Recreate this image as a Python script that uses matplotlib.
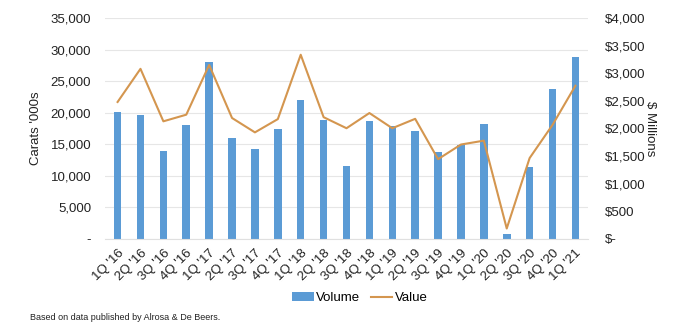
import matplotlib
matplotlib.use('Agg')
import matplotlib.pyplot as plt
from matplotlib.ticker import FuncFormatter

# data
quarters = ["1Q '16", "2Q '16", "3Q '16", "4Q '16", "1Q '17", "2Q '17", "3Q '17",
            "4Q '17", "1Q '18", "2Q '18", "3Q '18", "4Q '18", "1Q '19", "2Q '19",
            "3Q '19", "4Q '19", "1Q '20", "2Q '20", "3Q '20", "4Q '20", "1Q '21"]
volume = [20100, 19700, 13900, 18000, 28100, 16000, 14300, 17500, 22000, 18850,
          11600, 18700, 17950, 17150, 13700, 14950, 18200, 750, 11450, 23750, 28900]
value = [2480, 3080, 2130, 2250, 3150, 2190, 1930, 2170, 3335, 2205,
         2005, 2280, 2005, 2175, 1445, 1710, 1780, 190, 1465, 2065, 2775]

BAR_COLOR = '#5B9BD5'
LINE_COLOR = '#D4964F'
TEXT = '#222222'

plt.rcParams['font.family'] = ['Liberation Sans', 'DejaVu Sans']

fig = plt.figure(figsize=(7, 3.25), dpi=100)
ax = fig.add_axes([105/700, 1 - 239/325, (588-105)/700, (239-18)/325])
ax2 = ax.twinx()

x = list(range(len(quarters)))
ax.bar(x, volume, width=0.33, color=BAR_COLOR, zorder=2, label='Volume')
ax2.plot(x, value, color=LINE_COLOR, lw=1.5, zorder=3, label='Value')

ax.set_xlim(-0.55, len(quarters) - 0.45)
ax.set_ylim(0, 35000)
ax2.set_ylim(0, 4000)
ax.set_yticks(range(0, 35001, 5000))
ax2.set_yticks(range(0, 4001, 500))

ax.yaxis.set_major_formatter(FuncFormatter(lambda v, p: '-' if v == 0 else f'{int(v):,}'))
ax2.yaxis.set_major_formatter(FuncFormatter(lambda v, p: '$-' if v == 0 else f'${int(v):,}'))

ax.grid(axis='y', color='#E6E6E6', lw=0.8, zorder=0)
ax.set_axisbelow(True)
for a in (ax, ax2):
    for s in a.spines.values():
        s.set_visible(False)
    a.tick_params(length=0, labelsize=9.5, colors=TEXT)
ax.spines['bottom'].set_visible(True)
ax.spines['bottom'].set_color('#E0E0E0')
ax.tick_params(axis='y', pad=10)
ax2.tick_params(axis='y', pad=12)

ax.set_xticks(x)
ax.set_xticklabels(quarters, rotation=45, ha='right', rotation_mode='anchor', fontsize=9.5)
ax.tick_params(axis='x', pad=6)

ax.set_ylabel("Carats '000s", fontsize=9.5, color=TEXT)
ax.yaxis.set_label_coords((42 - 105) / 483, 0.5)
ax2.set_ylabel('$ Millions', fontsize=9.5, color=TEXT, rotation=270, va='center')
ax2.yaxis.set_label_coords((650 - 105) / 483, 0.5)

h1, l1 = ax.get_legend_handles_labels()
h2, l2 = ax2.get_legend_handles_labels()
fig.legend(h1 + h2, l1 + l2, loc='center', bbox_to_anchor=(360/700, 1 - 298/325),
           ncol=2, frameon=False, fontsize=9.5, handlelength=1.6, handletextpad=0.2,
           columnspacing=0.8)

fig.text(30/700, 1 - 317/325, 'Based on data published by Alrosa & De Beers.',
         fontsize=6.5, color=TEXT, va='center', ha='left')

fig.savefig('out.png', dpi=100, facecolor='white')
